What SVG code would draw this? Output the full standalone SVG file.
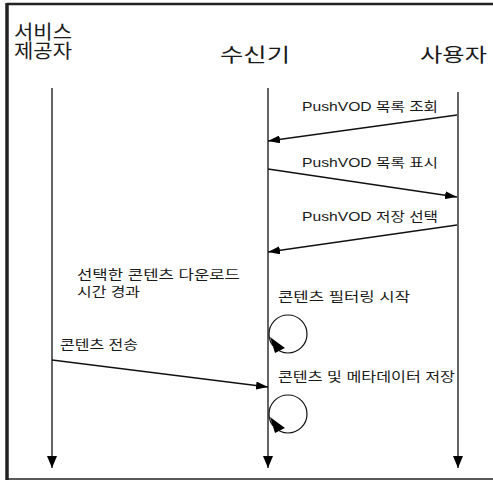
<svg xmlns="http://www.w3.org/2000/svg" width="493" height="481" viewBox="0 0 493 481">
<style>
.hdr{font-family:"Liberation Sans","Noto Sans CJK KR",sans-serif;font-size:19px;fill:#1a1a1a}
.lbl{font-family:"Liberation Sans","Noto Sans CJK KR",sans-serif;font-size:13px;fill:#1a1a1a}
.life{stroke:#111;stroke-width:1.3;fill:none}
.msg{stroke:#111;stroke-width:1.3;fill:none}
.loop{stroke:#111;stroke-width:1.2;fill:none}
.head{fill:#000}
</style>
<defs>
<marker id="ah" viewBox="0 0 12 8" refX="12" refY="4" markerWidth="12" markerHeight="8" markerUnits="userSpaceOnUse" orient="auto">
<path d="M0,0 L12,4 L0,8 Z" class="head"/>
</marker>
<marker id="ahl" viewBox="0 0 12 10" refX="12" refY="5" markerWidth="12" markerHeight="10" markerUnits="userSpaceOnUse" orient="auto">
<path d="M0,0 L12,5 L0,10 Z" class="head"/>
</marker>
</defs>
<rect x="0" y="0" width="493" height="481" fill="#fff"/>
<g id="frame" fill="none" stroke="#222">
<line x1="7" y1="4" x2="493" y2="4" stroke-width="2.5"/>
<line x1="7" y1="3" x2="7" y2="480" stroke-width="3.5"/>
<line x1="6" y1="479" x2="493" y2="479" stroke-width="1.5"/>
</g>
<g id="service-provider">
<text class="hdr" x="14" y="39" textLength="58" lengthAdjust="spacingAndGlyphs">서비스</text>
<text class="hdr" x="14" y="58" textLength="58" lengthAdjust="spacingAndGlyphs">제공자</text>
<line class="life" x1="52" y1="88" x2="52" y2="468" marker-end="url(#ahl)"/>
</g>
<g id="receiver">
<text class="hdr" x="220" y="62" textLength="70" lengthAdjust="spacingAndGlyphs">수신기</text>
<line class="life" x1="268" y1="88" x2="268" y2="468" marker-end="url(#ahl)"/>
</g>
<g id="user">
<text class="hdr" x="420" y="62" textLength="67" lengthAdjust="spacingAndGlyphs">사용자</text>
<line class="life" x1="458" y1="92" x2="458" y2="468" marker-end="url(#ahl)"/>
</g>
<g id="connectors">
<line class="msg" x1="457" y1="115" x2="268" y2="141" marker-end="url(#ah)"/>
<line class="msg" x1="268" y1="169" x2="457" y2="197" marker-end="url(#ah)"/>
<line class="msg" x1="457" y1="225" x2="268" y2="252" marker-end="url(#ah)"/>
<line class="msg" x1="52" y1="360" x2="268" y2="387" marker-end="url(#ah)"/>
<g id="loop-filter">
<circle class="loop" cx="288" cy="334" r="19"/>
<polygon class="head" points="270,337 275,353 285,348"/>
</g>
<g id="loop-store">
<circle class="loop" cx="288" cy="414" r="19"/>
<polygon class="head" points="270,417 275,433 285,428"/>
</g>
</g>
<g id="labels">
<text class="lbl" x="302" y="111" textLength="136" lengthAdjust="spacingAndGlyphs">PushVOD 목록 조회</text>
<text class="lbl" x="302" y="167" textLength="136" lengthAdjust="spacingAndGlyphs">PushVOD 목록 표시</text>
<text class="lbl" x="302" y="221" textLength="136" lengthAdjust="spacingAndGlyphs">PushVOD 저장 선택</text>
<text class="lbl" x="77" y="279" textLength="163" lengthAdjust="spacingAndGlyphs">선택한 콘텐츠 다운로드</text>
<text class="lbl" x="77" y="296" textLength="63" lengthAdjust="spacingAndGlyphs">시간 경과</text>
<text class="lbl" x="278" y="301" textLength="132" lengthAdjust="spacingAndGlyphs">콘텐츠 필터링 시작</text>
<text class="lbl" x="60" y="349" textLength="78" lengthAdjust="spacingAndGlyphs">콘텐츠 전송</text>
<text class="lbl" x="278" y="381" textLength="177" lengthAdjust="spacingAndGlyphs">콘텐츠 및 메타데이터 저장</text>
</g>
</svg>
